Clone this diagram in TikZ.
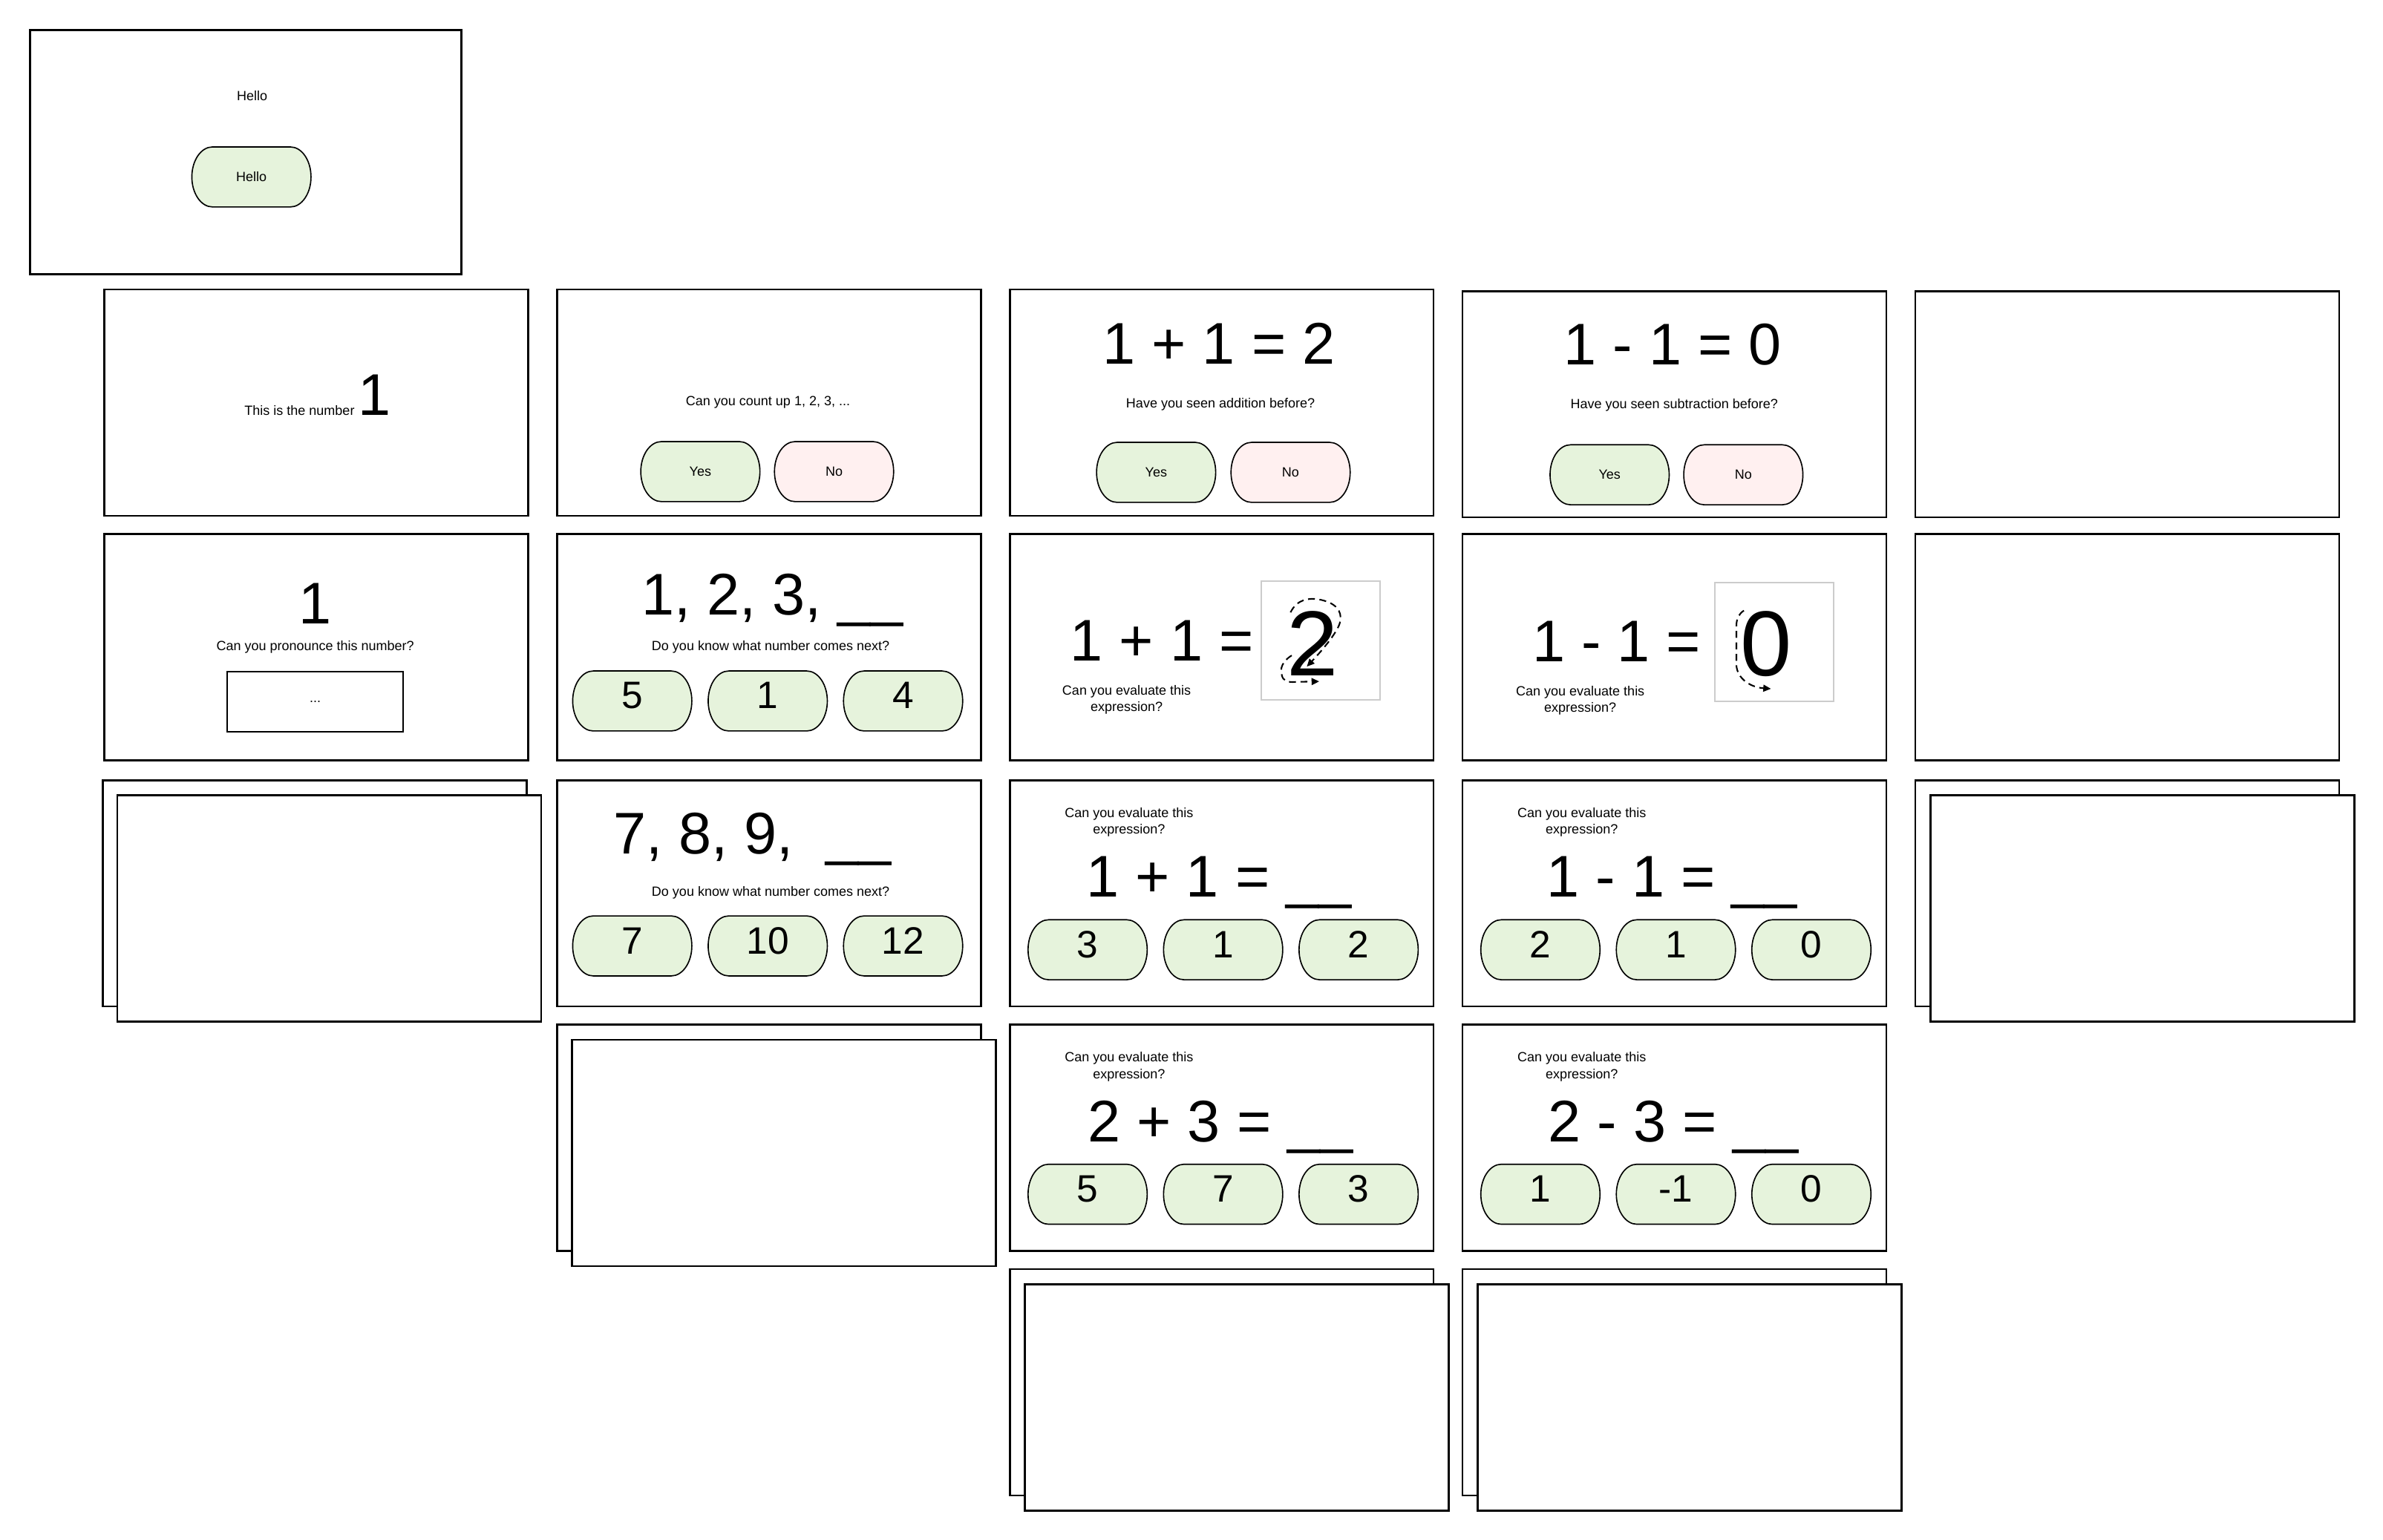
\documentclass[tikz,border=0pt]{standalone}
\usepackage{fontspec}
\setmainfont{Liberation Sans}
\usetikzlibrary{arrows.meta}
\definecolor{btngreen}{HTML}{E6F3DC}
\definecolor{btnpink}{HTML}{FFF0F0}
\definecolor{framegray}{HTML}{CCCCCC}
\newcommand{\fsSmall}{\fontsize{8.75}{10.8}\selectfont}
\newcommand{\fsBig}{\fontsize{38.5}{40}\selectfont}
\newcommand{\fsBtn}{\fontsize{25}{27}\selectfont}
\newcommand{\fsHuge}{\fontsize{60.5}{62}\selectfont}
\begin{document}
\begin{tikzpicture}[x=1pt,y=-1pt,
  screen/.style={draw, line width=1.3pt, fill=white, minimum width=279pt, minimum height=149pt, anchor=north west, inner sep=0pt},
  pill/.style={minimum width=80pt, minimum height=41.3pt, inner sep=0pt, font=\fsSmall,
    path picture={\draw[line width=0.8pt, fill=#1]
      ([xshift=14.5pt,yshift=-1pt]path picture bounding box.north west)
      -- ([xshift=-14.5pt,yshift=-1pt]path picture bounding box.north east)
      arc[start angle=90, end angle=-90, x radius=13.5pt, y radius=19.65pt]
      -- ([xshift=14.5pt,yshift=1pt]path picture bounding box.south west)
      arc[start angle=270, end angle=90, x radius=13.5pt, y radius=19.65pt]
      -- cycle;}},
  yesbtn/.style={pill=btngreen},
  nobtn/.style={pill=btnpink},
  numpill/.style={pill=btngreen, font=\fsBtn, text height=18pt, text depth=7.8pt},
  lbl/.style={inner sep=0pt, font=\fsSmall, align=center},
  bigtxt/.style={inner sep=0pt, font=\fsBig, anchor=base},
  hugetxt/.style={inner sep=0pt, font=\fsHuge, anchor=base},
  tracebox/.style={draw=framegray, line width=1pt, minimum width=77.8pt, minimum height=77.7pt, inner sep=0pt},
  trace/.style={line width=1pt, dash pattern=on 4.5pt off 3pt, -{Triangle[length=5pt,width=4.5pt]}}
]
\useasboundingbox (0,0) rectangle (1560,1008.4);

% ================= screens (frames) =================
\begin{scope}[scale=0.99453, transform shape]
\node[screen, minimum width=284pt, minimum height=161pt] (s0) at (19,19) {};
\node[screen] (r1c1) at (68,190) {};
\node[screen] (r1c2) at (366,190) {};
\node[screen] (r1c3) at (664,190) {};
\node[screen] (r1c4) at (962,191) {};
\node[screen] (r1c5) at (1260,191) {};
\node[screen] (r2c1) at (68,351) {};
\node[screen] (r2c2) at (366,351) {};
\node[screen] (r2c3) at (664,351) {};
\node[screen] (r2c4) at (962,351) {};
\node[screen] (r2c5) at (1260,351) {};
\node[screen] (r3c1b) at (67,513) {};
\node[screen] (r3c1f) at (76.5,523) {};
\node[screen] (r3c2) at (366,513) {};
\node[screen] (r3c3) at (664,513) {};
\node[screen] (r3c4) at (962,513) {};
\node[screen] (r3c5b) at (1260,513) {};
\node[screen] (r3c5f) at (1270,523) {};
\node[screen] (r4c2b) at (366,674) {};
\node[screen] (r4c2f) at (376,684) {};
\node[screen] (r4c3) at (664,674) {};
\node[screen] (r4c4) at (962,674) {};
\node[screen] (r5c3b) at (664,835) {};
\node[screen] (r5c3f) at (674,845) {};
\node[screen] (r5c4b) at (962,835) {};
\node[screen] (r5c4f) at (972,845) {};
\end{scope}

% ================= contents =================
\begin{scope}[scale=0.99453]
% row 0
\node[lbl] (s0t) at (166,63) {Hello};
\node[yesbtn] (s0b) at (165.5,116.5) {Hello};
% row 1, col 2
\node[lbl] (r1c2t) at (505.5,265) {Can you count up 1, 2, 3, ...};
\node[yesbtn] (r1c2y) at (461,310.5) {Yes};
\node[nobtn] (r1c2n) at (549,310.5) {No};
% row 1, col 3/4 buttons
\node[yesbtn] (r1c3y) at (761,311) {Yes};
\node[nobtn] (r1c3n) at (849.5,311) {No};
\node[yesbtn] (r1c4y) at (1059.5,312.6) {Yes};
\node[nobtn] (r1c4n) at (1147.5,312.6) {No};
% row 2, col 1
\node[bigtxt] (r2c1e) at (207.4,410.5) {1};
\node[lbl] (r2c1t) at (207.5,426) {Can you pronounce this number?};
\node[draw, line width=1pt, minimum width=115pt, minimum height=39pt, inner sep=0pt, font=\fsSmall] (r2c1in) at (207.5,462) {...};
\end{scope}

% row 1
\node[inner sep=0pt, anchor=base] (r1c1t) at (208,272) {\fsSmall This is the number \fsBig 1};
\node[bigtxt] (r1c3e) at (798,238.4) {1 + 1 = 2};
\node[lbl] (r1c3t) at (799,264.7) {Have you seen addition before?};
\node[bigtxt] (r1c4e) at (1095,239) {1 - 1 = 0};
\node[lbl] (r1c4t) at (1096,265.5) {Have you seen subtraction before?};

% row 2
\node[bigtxt] (r2c2e) at (505.7,402.8) {1, 2, 3, \_\_};
\node[lbl] (r2c2t) at (504.5,423.8) {Do you know what number comes next?};
\node[numpill] (r2c2a) at (413.9,459) {5};
\node[numpill] (r2c2b) at (502.6,459) {1};
\node[numpill] (r2c2c) at (591.2,459) {4};

\node[bigtxt] (r2c3e) at (760.6,432.8) {1 + 1 =};
\node[lbl] (r2c3t) at (737.5,458.2) {Can you evaluate this\\expression?};
\begin{scope}[xshift=-3.7pt]
\node[tracebox] (r2c3box) at (868.2,419.3) {};
\node[hugetxt] (r2c3d) at (863,442.6) {2};
\draw[trace] (848.5,401) .. controls (853,392) and (861,391.5) .. (867,392.5)
  .. controls (878,394.5) and (882.5,400) .. (881,407)
  .. controls (880,413) and (870,425) .. (859.2,436.5);
\draw[trace] (849.3,429.2) .. controls (843,433) and (841.5,438) .. (842.8,442)
  .. controls (843.5,446) and (847,447) .. (852,446.5) -- (867.3,446.2);
\end{scope}

\node[bigtxt] (r2c4e) at (1058.3,433.3) {1 - 1 =};
\node[lbl] (r2c4t) at (1034.5,458.5) {Can you evaluate this\\expression?};
\begin{scope}[xshift=-7.7pt]
\node[tracebox] (r2c4box) at (1169,420.3) {};
\node[hugetxt] (r2c4d) at (1164,442.5) {0};
\draw[trace] (1149.3,399.8) .. controls (1146,402) and (1144.4,405) .. (1144.4,410)
  -- (1144.4,435.8) .. controls (1145,444) and (1153,450) .. (1167,451);
\end{scope}

% row 3
\node[bigtxt] (r3c2e) at (492.7,559) {7, 8, 9,\ \ \_\_};
\node[lbl] (r3c2t) at (504.5,584.5) {Do you know what number comes next?};
\node[numpill] (r3c2a) at (413.9,619.4) {7};
\node[numpill] (r3c2b) at (502.6,619.4) {10};
\node[numpill] (r3c2c) at (591.2,619.4) {12};

\node[lbl] (r3c3t) at (739.1,538.4) {Can you evaluate this\\expression?};
\node[bigtxt] (r3c3e) at (798,587.5) {1 + 1 = \_\_};
\node[numpill] (r3c3a) at (712,621.9) {3};
\node[numpill] (r3c3b) at (800.7,621.9) {1};
\node[numpill] (r3c3c) at (889.4,621.9) {2};

\node[lbl] (r3c4t) at (1035.5,538.4) {Can you evaluate this\\expression?};
\node[bigtxt] (r3c4e) at (1094.5,587.5) {1 - 1 = \_\_};
\node[numpill] (r3c4a) at (1008.4,621.9) {2};
\node[numpill] (r3c4b) at (1097.1,621.9) {1};
\node[numpill] (r3c4c) at (1185.8,621.9) {0};

% row 4
\node[lbl] (r4c3t) at (739.1,698.5) {Can you evaluate this\\expression?};
\node[bigtxt] (r4c3e) at (799,747.6) {2 + 3 = \_\_};
\node[numpill] (r4c3a) at (712,782) {5};
\node[numpill] (r4c3b) at (800.7,782) {7};
\node[numpill] (r4c3c) at (889.4,782) {3};

\node[lbl] (r4c4t) at (1035.5,698.5) {Can you evaluate this\\expression?};
\node[bigtxt] (r4c4e) at (1095.5,747.6) {2 - 3 = \_\_};
\node[numpill] (r4c4a) at (1008.4,782) {1};
\node[numpill] (r4c4b) at (1097.1,782) {-1};
\node[numpill] (r4c4c) at (1185.8,782) {0};
\end{tikzpicture}
\end{document}
